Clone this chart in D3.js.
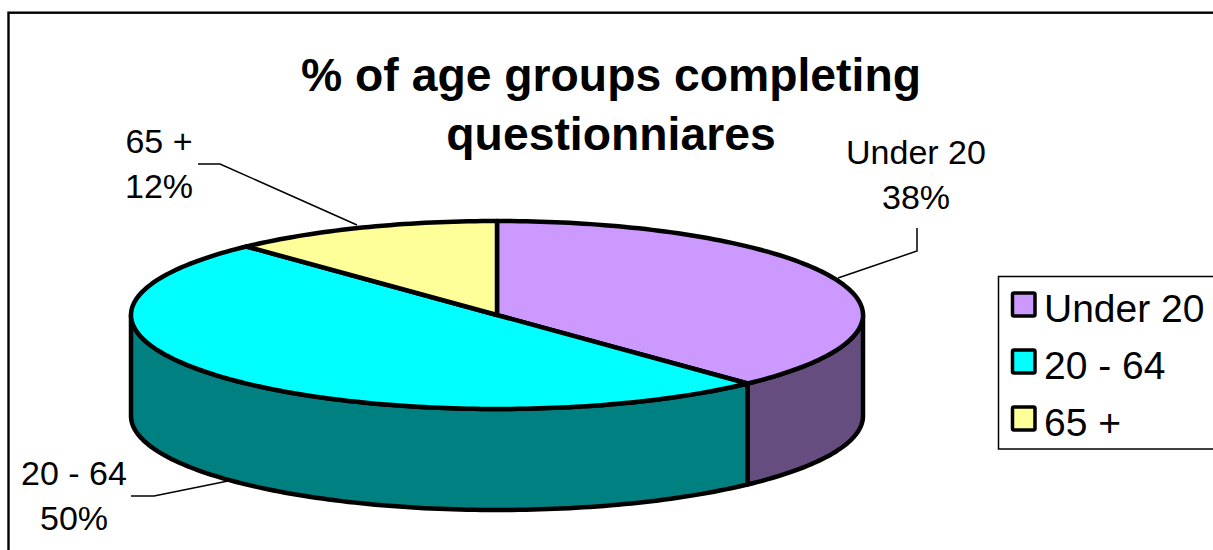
<!DOCTYPE html>
<html>
<head>
<meta charset="utf-8">
<script src="https://cdn.jsdelivr.net/npm/d3@7"></script>
<style>
  html, body { margin: 0; padding: 0; background: #fff; overflow: hidden; }
  text { font-family: "Liberation Sans", Arial, sans-serif; fill: #000; }
</style>
</head>
<body>
<svg id="chart"></svg>
<script>
const categories = ['Under 20', '20 - 64', '65 +'];
const values = [38, 50, 12];
const topColors = ['#cc99ff', '#00ffff', '#ffff99'];
const sideColors = ['#664d80', '#008080', '#808066'];
const titleLines = ['% of age groups completing', 'questionniares'];

const width = 1213, height = 550;
const cx = 497, cy = 315, rx = 366, ry = 94, depth = 101;

const svg = d3.select('#chart').attr('width', width).attr('height', height);

// frame runs off the right and bottom of the picture
svg.append('rect')
    .attr('x', 8.5).attr('y', 12.7)
    .attr('width', 1300).attr('height', 700)
    .attr('fill', '#fff').attr('stroke', '#000').attr('stroke-width', 2.4);

// title
svg.append('g').selectAll('text')
    .data(titleLines)
    .enter().append('text')
    .attr('x', 611)
    .attr('y', (d, i) => 91 + i * 59)
    .attr('text-anchor', 'middle')
    .attr('font-weight', 'bold')
    .attr('font-size', 46.3)
    .text(d => d);

const slices = d3.pie().sort(null).value(d => d)(values);

// angle is clockwise from 12 o'clock, then flattened to the ellipse
const px = a => cx + rx * Math.sin(a);
const py = (a, dy) => cy - ry * Math.cos(a) + dy;

function edge(a0, a1, dy) {
    const n = Math.max(2, Math.ceil(Math.abs(a1 - a0) / 0.02));
    return d3.range(n + 1).map(i => {
        const a = a0 + (a1 - a0) * i / n;
        return [px(a), py(a, dy)];
    });
}

const line = d3.line();
const pieGroup = svg.append('g')
    .attr('stroke', '#000').attr('stroke-width', 4.5).attr('stroke-linejoin', 'round');

// side wall, only the part between 3 and 9 o'clock shows
slices.forEach((s, i) => {
    const a0 = Math.max(s.startAngle, Math.PI / 2);
    const a1 = Math.min(s.endAngle, 3 * Math.PI / 2);
    if (a1 <= a0) return;
    const pts = edge(a0, a1, 0).concat(edge(a1, a0, depth));
    pieGroup.append('path').attr('d', line(pts) + 'Z').attr('fill', sideColors[i]);
});

// top face
slices.forEach((s, i) => {
    const pts = [[cx, cy]].concat(edge(s.startAngle, s.endAngle, 0));
    pieGroup.append('path').attr('d', line(pts) + 'Z').attr('fill', topColors[i]);
});

// data labels with leader lines
const labelSpots = [
    { x: 916, y: 164, lead: [[917, 228], [917, 251], [838, 278]] },
    { x: 74, y: 485, lead: [[131, 496], [154, 496], [228, 481]] },
    { x: 159, y: 153, lead: [[198, 164], [220, 164], [357, 225]] }
];
const labels = svg.append('g');
slices.forEach((s, i) => {
    const spot = labelSpots[i];
    const t = labels.append('text')
        .attr('text-anchor', 'middle').attr('font-size', 34)
        .attr('x', spot.x).attr('y', spot.y);
    t.append('tspan').attr('x', spot.x).text(categories[i]);
    t.append('tspan').attr('x', spot.x).attr('dy', 44.5).text(values[i] + '%');
    labels.append('path')
        .attr('d', line(spot.lead))
        .attr('fill', 'none').attr('stroke', '#000').attr('stroke-width', 1.5);
});

// legend
const legend = svg.append('g');
legend.append('rect')
    .attr('x', 998.5).attr('y', 276.5)
    .attr('width', 300).attr('height', 172.5)
    .attr('fill', '#fff').attr('stroke', '#000').attr('stroke-width', 1.5);

const legendY = d3.scalePoint().domain(categories).range([322, 436]);
const rows = legend.selectAll('g')
    .data(categories)
    .enter().append('g')
    .attr('transform', d => `translate(0, ${legendY(d)})`);
rows.append('rect')
    .attr('x', 1012.5).attr('y', -29)
    .attr('width', 22.5).attr('height', 23).attr('rx', 1.5)
    .attr('fill', (d, i) => topColors[i])
    .attr('stroke', '#000').attr('stroke-width', 3.5);
rows.append('text')
    .attr('x', 1044).attr('y', 0)
    .attr('font-size', 39)
    .text(d => d);
</script>
</body>
</html>
